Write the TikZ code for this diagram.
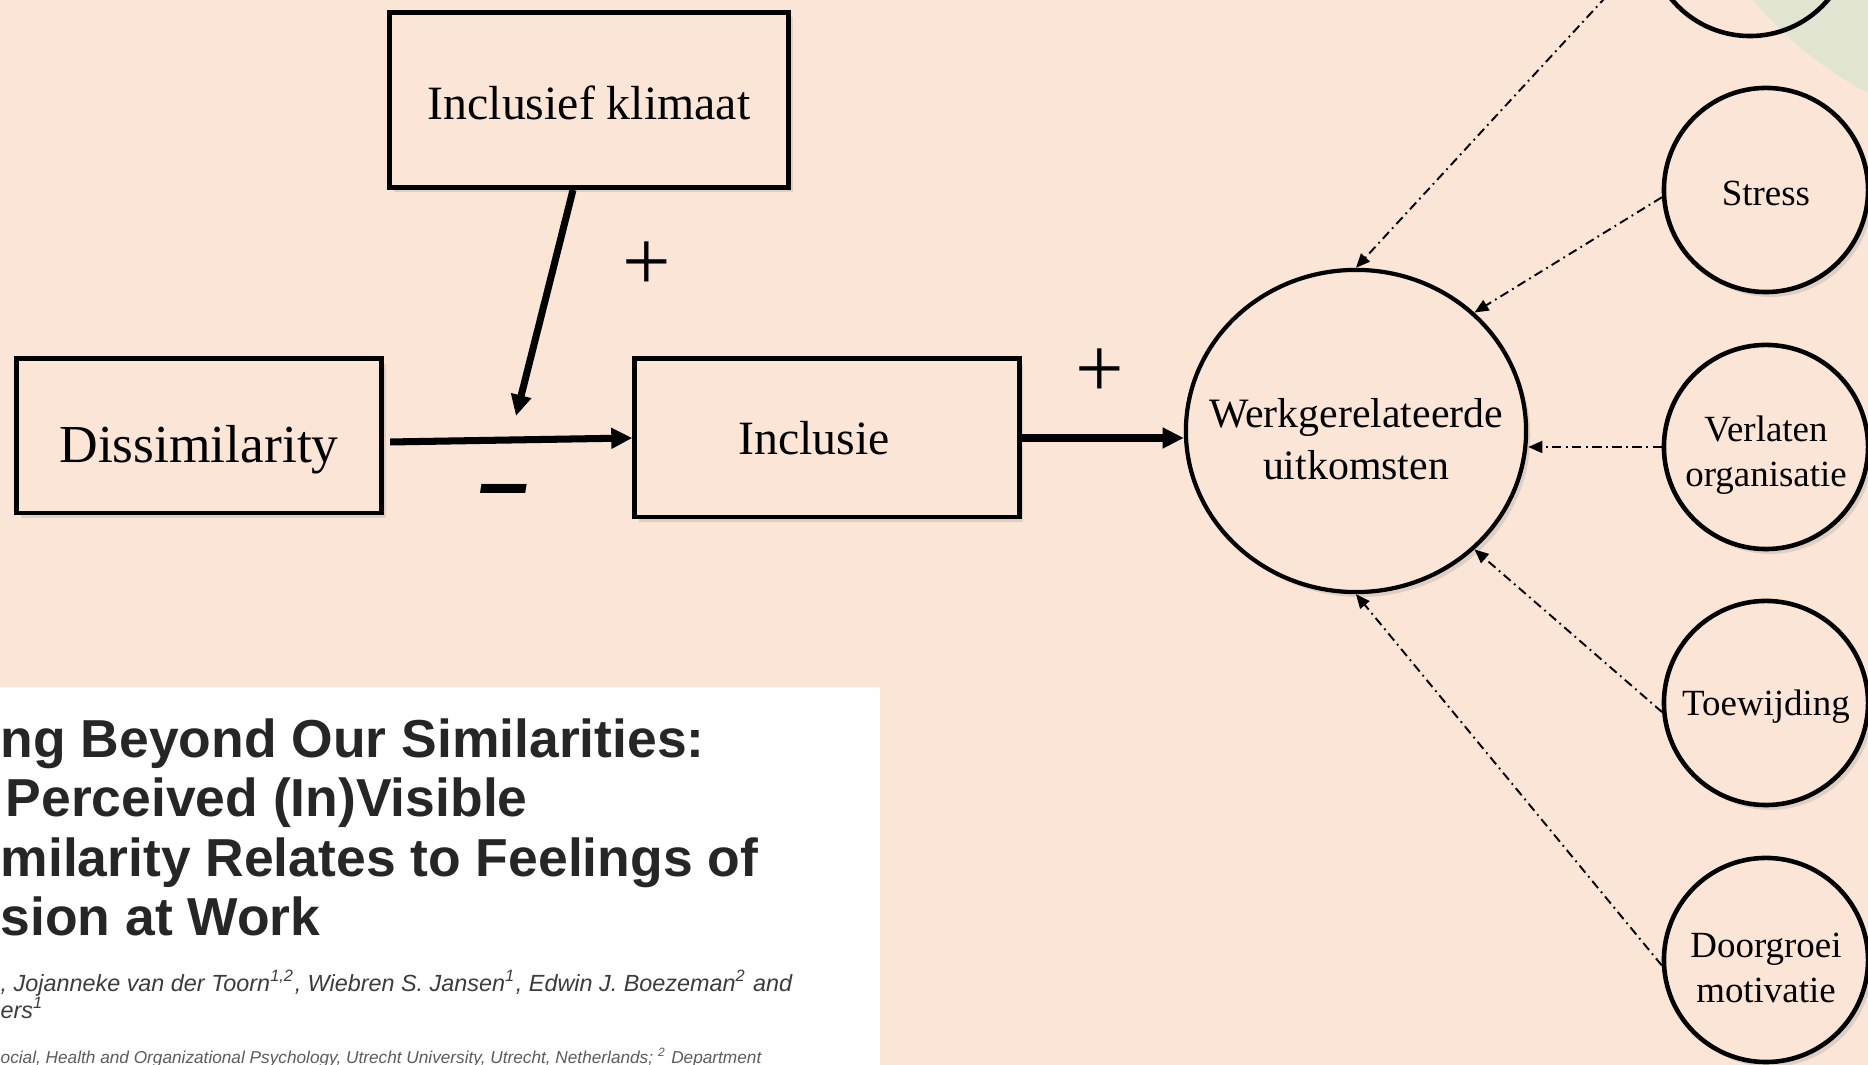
\documentclass[tikz,border=0pt]{standalone}
\usepackage{fontspec}
\setmainfont{Liberation Serif}
\newfontfamily\papersans{Liberation Sans}
\usetikzlibrary{shapes.geometric, arrows.meta, shadows}
\definecolor{peach}{HTML}{FBE5D6}
\definecolor{sage}{HTML}{E2E4D2}
\definecolor{ink}{HTML}{262626}
\tikzset{
    castshadow/.style={
        drop shadow={shadow xshift=1.2pt, shadow yshift=-1.4pt, opacity=0.22}
    },
    construct/.style={
        rectangle, draw=black, line width=1.4pt,
        fill=peach, castshadow, font=\fontsize{13.6}{16}\selectfont
    },
    outcome/.style={
        ellipse, draw=black, line width=1.2pt, fill=peach, castshadow,
        inner xsep=-0.3cm, inner ysep=0pt, align=center,
        font=\fontsize{11.9}{14.8}\selectfont
    },
    facet/.style={
        circle, draw=black, line width=1.3pt, fill=peach, castshadow,
        minimum size=2.04cm, inner sep=0pt, align=center,
        font=\fontsize{10.5}{12.8}\selectfont
    },
    openfacet/.style={
        circle, draw=black, line width=1.3pt, minimum size=2.04cm, inner sep=0pt
    },
    wire/.style={draw=black, line width=2pt, -{Triangle[length=6pt, width=5.6pt]}},
    linkwire/.style={draw=black, line width=0.55pt,
        dash pattern=on 2.6pt off 1.3pt on 0.5pt off 1.3pt,
        -{Triangle[length=4pt, width=3.4pt]}},
    sign/.style={inner sep=0pt, font=\fontsize{24.5}{26}\selectfont},
    minus/.style={inner sep=0pt, font=\papersans\bfseries\itshape\fontsize{26}{28}\selectfont},
    papertitle/.style={anchor=base west, inner sep=0pt, text=ink,
        font=\papersans\bfseries\fontsize{15.2}{18}\selectfont},
    paperauth/.style={anchor=base west, inner sep=0pt, text=ink!90,
        font=\papersans\itshape\fontsize{6.65}{8}\selectfont},
    paperaff/.style={anchor=base west, inner sep=0pt, text=ink!75,
        font=\papersans\itshape\fontsize{4.9}{6}\selectfont}
}
\newcommand{\toppad}[1]{\rule{0pt}{#1}}

\begin{document}
\begin{tikzpicture}[x=0.01cm, y=-0.01cm]

\path[use as bounding box] (0,0) rectangle (1868,1065);
\clip (0,0) rectangle (1868,1065);
\fill[peach] (0,0) rectangle (1868,1065);
\fill[sage] (2050,-250) circle[radius=3.88cm];

% Model
\node[construct, minimum width=3.99cm, minimum height=1.75cm] (klim) at (589,100) {\toppad{11pt}Inclusief klimaat};
\node[construct, minimum width=3.65cm, minimum height=1.54cm, font=\fontsize{15.2}{17}\selectfont,
      text height=18pt, text depth=3pt] (diss) at (199,436) {Dissimilarity};
\node[construct, minimum width=3.84cm, minimum height=1.58cm] (incl) at (827,438) {Inclusie\rule{0.26cm}{0pt}};

\coordinate (mod) at (516,416);
\draw[wire] ([shift={(6,6)}]diss.east) -- (incl.west);
\draw[wire] ([shift={(-16,0)}]klim.south) -- (mod);

\node[sign] (plusmod) at (647,266) {+};
\node[minus] (minmod) at (504,499) {–};

% Outcomes
\node[outcome, minimum width=3.4cm, minimum height=3.22cm] (werk) at (1356,431) {\toppad{12.7pt}Werkgerelateerde\\uitkomsten};
\draw[wire] (incl.east) -- (incl.east -| werk.west);
\node[sign] (plusout) at (1100,373) {+};

\node[openfacet] (topc) at (1750,-66) {};
\node[facet] (stre) at (1766,190) {\toppad{9pt}Stress};
\node[facet] (verl) at (1766,447) {\toppad{11.8pt}Verlaten\\organisatie};
\node[facet] (toew) at (1766,703) {\toppad{9.5pt}Toewijding};
\node[facet] (door) at (1766,960) {\toppad{11.5pt}Doorgroei\\motivatie};

\draw[linkwire] (topc.190) -- (werk.north);
\draw[linkwire] (stre.184) -- (werk.45);
\draw[linkwire] (verl.west) -- (verl.west -| werk.east);
\draw[linkwire] (toew.185) -- (werk.-45);
\draw[linkwire] (door.183) -- (werk.south);

% Paper snippet
\fill[white] (0,687) rectangle (880,1065);
\node[papertitle] (t1) at (0,758) {ng Beyond Our Similarities:};
\node[papertitle] (t2) at (5,817) {Perceived (In)Visible};
\node[papertitle] (t3) at (0,877) {milarity Relates to Feelings of};
\node[papertitle] (t4) at (0,936) {sion at Work};
\node[paperauth] (a1) at (0,992) {, Jojanneke van der Toorn\textsuperscript{1,2}, Wiebren S. Jansen\textsuperscript{1}, Edwin J. Boezeman\textsuperscript{2} and};
\node[paperauth] (a2) at (0,1019) {ers\textsuperscript{1}};
\node[paperaff] (f1) at (0,1064) {ocial, Health and Organizational Psychology, Utrecht University, Utrecht, Netherlands; \textsuperscript{2} Department};

\end{tikzpicture}
\end{document}
